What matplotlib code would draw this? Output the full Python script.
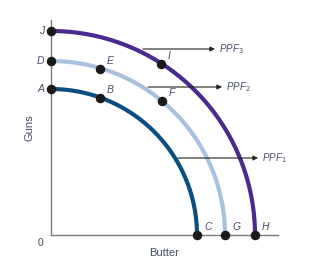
import numpy as np
import matplotlib
matplotlib.use('Agg')
import matplotlib.pyplot as plt

plt.rcParams['font.family'] = ['Liberation Sans', 'DejaVu Sans']

# frontier radii (quarter circles), in plot units
ppf_names = ['PPF1', 'PPF2', 'PPF3']
ppf_radius = [7.3, 8.7, 10.2]
ppf_colors = ['#0b4f82', '#a9c1e0', '#4a2a8e']

# labelled points: (label, butter, guns)
pt_labels = ['A', 'B', 'C', 'D', 'E', 'F', 'G', 'H', 'I', 'J']
pt_butter = [0.0, 2.45, 7.3, 0.0, 2.45, 5.55, 8.7, 10.2, 5.5, 0.0]
pt_guns = [7.3, 6.85, 0.0, 8.7, 8.3, 6.7, 0.0, 0.0, 8.55, 10.2]

# arrows pointing to each frontier label: start x, end x, y
arrow_x0 = [6.35, 4.85, 4.6]
arrow_x1 = [10.35, 8.55, 8.2]
arrow_y = [3.85, 7.4, 9.3]

txt_col = '#454c66'

fig = plt.figure(figsize=(3.1, 2.7), dpi=100)
ax = fig.add_axes([51/310, 35/270, 227/310, 215/270])
ax.set_xlim(0, 11.35)
ax.set_ylim(0, 10.75)
for s in ['top', 'right']:
    ax.spines[s].set_visible(False)
for s in ['left', 'bottom']:
    ax.spines[s].set_color('#7a7a7a')
    ax.spines[s].set_linewidth(1.0)
ax.set_xticks([])
ax.set_yticks([])

theta = np.linspace(0, np.pi / 2, 200)
for r, c in zip(ppf_radius, ppf_colors):
    ax.plot(r * np.cos(theta), r * np.sin(theta), color=c, lw=3.0,
            solid_capstyle='butt', clip_on=False, zorder=2)

ax.scatter(pt_butter, pt_guns, s=34, color='#1a1a1a', zorder=4, clip_on=False)
for lab, bx, gy in zip(pt_labels, pt_butter, pt_guns):
    if bx == 0:
        ax.text(bx - 0.35, gy, lab, ha='right', va='center', style='italic',
                fontsize=7.5, color=txt_col)
    else:
        ax.text(bx + 0.35, gy + 0.15, lab, ha='left', va='bottom', style='italic',
                fontsize=7.5, color=txt_col)

for name, x0, x1, y in zip(ppf_names, arrow_x0, arrow_x1, arrow_y):
    ax.annotate('', xy=(x1, y), xytext=(x0, y),
                arrowprops=dict(arrowstyle='-|>', color='#222222', lw=0.8,
                                mutation_scale=7, shrinkA=0, shrinkB=0),
                annotation_clip=False)
    ax.text(x1 + 0.2, y, 'PPF$_{%s}$' % name[-1], ha='left', va='center',
            style='italic', fontsize=7, color=txt_col)

ax.text(-0.55, -0.4, '0', ha='center', va='center', fontsize=7.5, color=txt_col)
ax.set_xlabel('Butter', fontsize=8, color=txt_col, labelpad=9)
ax.set_ylabel('Guns', fontsize=8, color=txt_col, labelpad=12)

fig.savefig('out.png', dpi=100)
